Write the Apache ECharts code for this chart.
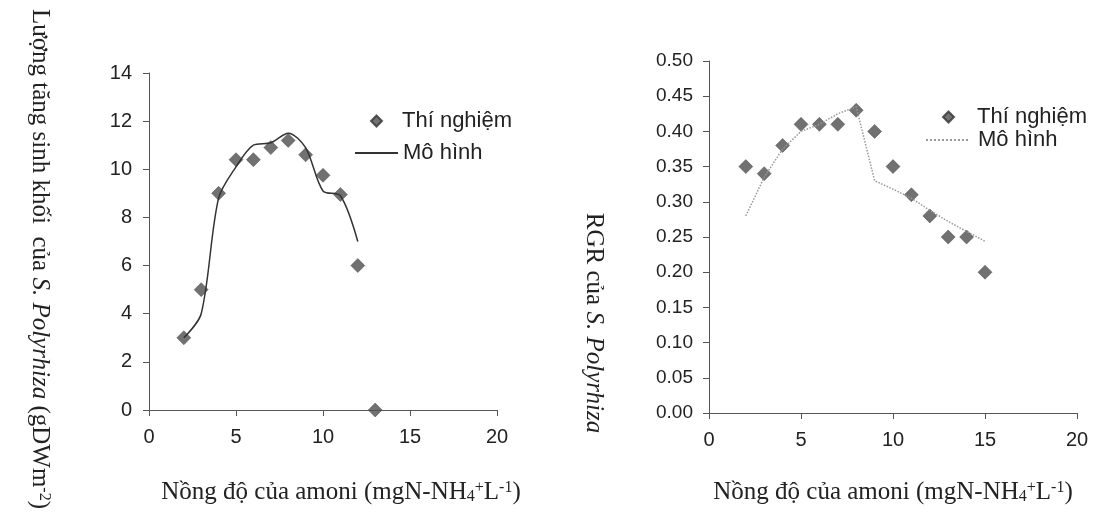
<!DOCTYPE html>
<html>
<head>
<meta charset="utf-8">
<script src="https://cdn.jsdelivr.net/npm/echarts@6/dist/echarts.min.js"></script>
<style>
  html, body { margin: 0; padding: 0; background: #fff; }
  #chart { width: 1094px; height: 513px; }
</style>
</head>
<body>
<div id="chart"></div>
<script>
// nồng độ amoni (trục x)
const concLeft = [2, 3, 4, 5, 6, 7, 8, 9, 10, 11, 12, 13]
const concLeftModel = [2, 3, 4, 5, 6, 7, 8, 9, 10, 11, 12]
const concRight = [2, 3, 4, 5, 6, 7, 8, 9, 10, 11, 12, 13, 14, 15]

// lượng tăng sinh khối (gDW/m2)
const biomassExp = [3.0, 5.0, 9.0, 10.4, 10.4, 10.9, 11.2, 10.6, 9.75, 8.95, 6.0, 0]
const biomassModel = [3.0, 4.0, 8.8, 10.1, 11.0, 11.1, 11.5, 10.9, 9.1, 8.9, 7.0]

// RGR
const rgrExp = [0.35, 0.34, 0.38, 0.41, 0.41, 0.41, 0.43, 0.40, 0.35, 0.31, 0.28, 0.25, 0.25, 0.20]
const rgrModel = [0.28, 0.335, 0.375, 0.40, 0.41, 0.425, 0.435, 0.33, 0.318, 0.305, 0.288, 0.272, 0.258, 0.244]

const leftTicks = { min: 0, max: 14, interval: 2 }
const rightTicks = { min: 0, max: 0.5, interval: 0.05 }
const xTicks = { min: 0, max: 20, interval: 5 }

const pair = (xs, ys) => xs.map((x, i) => [x, ys[i]])

const chart = echarts.init(document.getElementById('chart'))

const sans = 'Liberation Sans, Arial, sans-serif'
const serif = 'Liberation Serif, Times New Roman, serif'
const axisColor = '#555'
const markColor = '#4d4d4d'

const richSerif = {
  n: { fontFamily: serif, fontSize: 25, color: '#222' },
  i: { fontFamily: serif, fontSize: 25, color: '#222', fontStyle: 'italic' },
  sup: { fontFamily: serif, fontSize: 16, color: '#222', verticalAlign: 'top' },
  sub: { fontFamily: serif, fontSize: 16, color: '#222', verticalAlign: 'bottom' }
}

const xName = '{n|Nồng độ của amoni (mgN-NH}{sub|4}{sup|+}{n|L}{sup|-1}{n|)}'

function xAxisOf (idx, gap, pad) {
  return {
    type: 'value',
    gridIndex: idx,
    min: xTicks.min,
    max: xTicks.max,
    interval: xTicks.interval,
    name: xName,
    nameLocation: 'middle',
    nameGap: gap,
    nameTextStyle: { rich: richSerif, padding: [0, 0, 0, pad] },
    axisLine: { lineStyle: { color: axisColor } },
    axisTick: { lineStyle: { color: axisColor }, length: 6 },
    axisLabel: { fontFamily: sans, fontSize: 20, color: '#222', margin: 17 },
    splitLine: { show: false }
  }
}

const legendText = { fontFamily: sans, fontSize: 22, color: '#222' }

chart.setOption({
  backgroundColor: '#fff',
  animation: false,
  grid: [
    { left: 149, top: 73, width: 348, height: 337 },
    { left: 709, top: 61, width: 368, height: 352 }
  ],
  legend: [
    {
      data: [{ name: 'Thí nghiệm', icon: 'diamond' }],
      left: 365, top: 105, itemWidth: 11, itemHeight: 11,
      textStyle: Object.assign({ padding: [0, 0, 0, 15] }, legendText)
    },
    {
      data: ['Mô hình'],
      left: 349, top: 137, itemWidth: 43, itemHeight: 12,
      itemStyle: { opacity: 0 },
      textStyle: legendText
    },
    {
      data: [{ name: 'Thí nghiệm ', icon: 'diamond' }],
      left: 937, top: 101, itemWidth: 11, itemHeight: 11,
      textStyle: Object.assign({ padding: [0, 0, 0, 18] }, legendText)
    },
    {
      data: ['Mô hình '],
      left: 920, top: 124, itemWidth: 43, itemHeight: 12,
      itemStyle: { opacity: 0 },
      textStyle: Object.assign({ padding: [0, 0, 0, 4] }, legendText)
    }
  ],
  xAxis: [xAxisOf(0, 70, 36), xAxisOf(1, 67, 0)],
  yAxis: [
    {
      type: 'value',
      gridIndex: 0,
      min: leftTicks.min,
      max: leftTicks.max,
      interval: leftTicks.interval,
      name: '{n|Lượng tăng sinh khối  của }{i|S. Polyrhiza}{n| (gDWm}{sup|-2}{n|)}',
      nameLocation: 'middle',
      nameRotate: -90,
      nameGap: 97,
      nameTextStyle: { rich: richSerif, padding: [0, 0, 0, 35] },
      axisLine: { show: true, lineStyle: { color: axisColor } },
      axisTick: { show: true, lineStyle: { color: axisColor }, length: 6 },
      axisLabel: { fontFamily: sans, fontSize: 20, color: '#222', margin: 17 },
      splitLine: { show: false }
    },
    {
      type: 'value',
      gridIndex: 1,
      min: rightTicks.min,
      max: rightTicks.max,
      interval: rightTicks.interval,
      name: '{n|RGR của }{i|S. Polyrhiza}',
      nameLocation: 'middle',
      nameRotate: -90,
      nameGap: 103,
      nameTextStyle: { rich: richSerif, padding: [0, 0, 0, 172] },
      axisLine: { show: true, lineStyle: { color: axisColor } },
      axisTick: { show: true, lineStyle: { color: axisColor }, length: 6 },
      axisLabel: {
        fontFamily: sans, fontSize: 19, color: '#222', margin: 16,
        formatter: v => v.toFixed(2)
      },
      splitLine: { show: false }
    }
  ],
  series: [
    {
      name: 'Mô hình',
      type: 'line',
      xAxisIndex: 0,
      yAxisIndex: 0,
      smooth: 0.3,
      symbol: 'none',
      lineStyle: { color: '#333', width: 1.5 },
      itemStyle: { color: '#333' },
      data: pair(concLeftModel, biomassModel)
    },
    {
      name: 'Thí nghiệm',
      type: 'scatter',
      xAxisIndex: 0,
      yAxisIndex: 0,
      symbol: 'diamond',
      symbolSize: 14,
      clip: false,
      itemStyle: { color: markColor, borderColor: '#333', borderWidth: 0.5 },
      data: pair(concLeft, biomassExp)
    },
    {
      name: 'Mô hình ',
      type: 'line',
      xAxisIndex: 1,
      yAxisIndex: 1,
      symbol: 'none',
      lineStyle: { color: '#999', width: 1.5, type: 'dotted' },
      itemStyle: { color: '#999' },
      data: pair(concRight, rgrModel)
    },
    {
      name: 'Thí nghiệm ',
      type: 'scatter',
      xAxisIndex: 1,
      yAxisIndex: 1,
      symbol: 'diamond',
      symbolSize: 14,
      itemStyle: { color: markColor, borderColor: '#333', borderWidth: 0.5 },
      data: pair(concRight, rgrExp)
    }
  ]
})
</script>
</body>
</html>
